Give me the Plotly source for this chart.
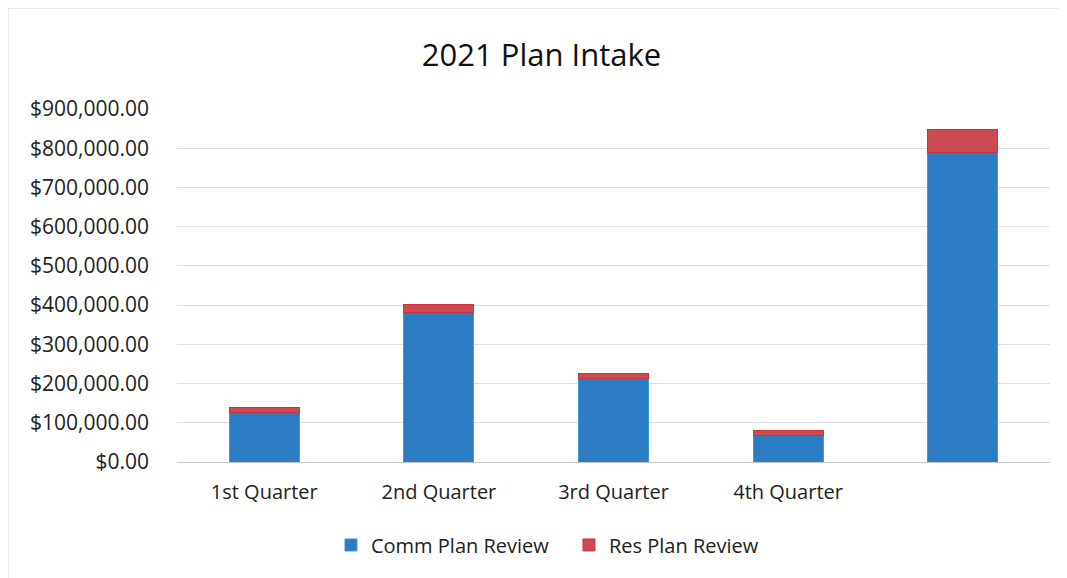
import plotly.graph_objects as go

categories = ["1st Quarter", "2nd Quarter", "3rd Quarter", "4th Quarter", "Total"]
tick_labels = ["1st Quarter", "2nd Quarter", "3rd Quarter", "4th Quarter", ""]
comm_plan_review = [127000, 381000, 213000, 67000, 788000]
res_plan_review = [13000, 21000, 13000, 13000, 60000]

FONT = "Open Sans"

fig = go.Figure()
fig.add_trace(go.Bar(x=categories, y=comm_plan_review, name="Comm Plan Review",
                     marker=dict(color="#2b7cc2", line=dict(color="#3a9be0", width=1))))
fig.add_trace(go.Bar(x=categories, y=res_plan_review, name="Res Plan Review",
                     marker=dict(color="#cc4a52", line=dict(color="#d0323c", width=1))))

# page body has an 8px margin, so the figure is offset by (8, 8) on screen
fig.update_layout(
    barmode="stack",
    bargap=0.6,
    width=1067, height=578,
    margin=dict(l=169, r=25, t=101, b=124),
    paper_bgcolor="white", plot_bgcolor="white",
    font=dict(family=FONT, color="#222222", size=20),
    title=dict(text="2021 Plan Intake", x=0.5, xanchor="center", y=0.919, yanchor="middle",
               font=dict(family=FONT, size=31, color="#111111")),
    legend=dict(orientation="h", x=0.449, xanchor="center", y=-0.235, yanchor="middle",
                font=dict(family=FONT, size=20, color="#222222"), itemwidth=30,
                entrywidth=193, traceorder="normal"),
    showlegend=True,
)
fig.update_xaxes(tickvals=categories, ticktext=tick_labels, showline=True, linecolor="#c8c8c8",
                 linewidth=1, ticks="", ticklabelstandoff=12, tickfont=dict(size=20, family=FONT))
fig.update_yaxes(range=[0, 900000], dtick=100000, tickformat="$,.2f", showgrid=True,
                 gridcolor="#dedede", gridwidth=1, zeroline=False, showline=False,
                 ticks="", ticklabelstandoff=27, tickfont=dict(size=21, family=FONT))

# outer chart frame
fig.add_shape(type="rect", xref="paper", yref="paper",
              x0=(0 - 169) / 873, x1=(1052 - 169) / 873,
              y0=(454 - 575) / 353, y1=(454 - 0) / 353,
              line=dict(color="#d8d8d8", width=1), layer="below")

fig.write_html("out.html")
